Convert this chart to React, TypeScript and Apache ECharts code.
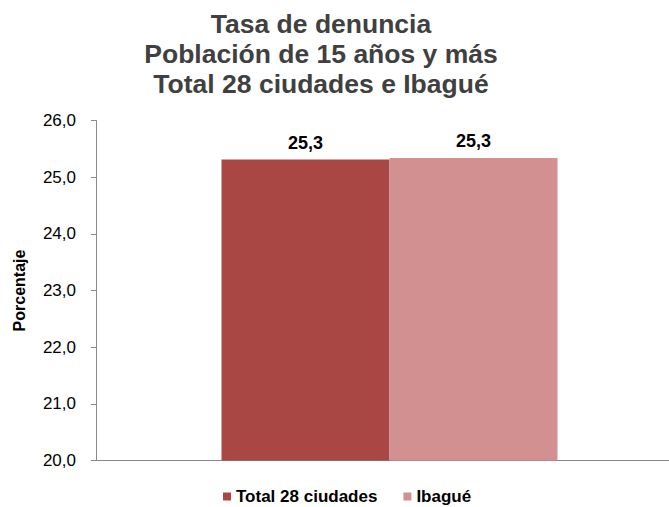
import React, { useEffect, useRef } from "react";
import * as echarts from "echarts";

const categories = [""];
const seriesNames = ["Total 28 ciudades", "Ibagué"];
const totalValues = [25.31];
const ibagueValues = [25.34];
const colors = ["#A94744", "#D39090"];
const titleLines = ["Tasa de denuncia", "Población de 15 años y más", "Total 28 ciudades e Ibagué"];

const fmt = (v: number) => v.toFixed(1).replace(".", ",");

export default function App() {
  const ref = useRef<HTMLDivElement>(null);
  useEffect(() => {
    if (!ref.current) return;
    const chart = echarts.init(ref.current, null, { renderer: "svg" });
    const font = "Liberation Sans, Arial, sans-serif";
    const labelStyle = {
      show: true,
      position: "top",
      distance: 8,
      formatter: (p: any) => fmt(p.value),
      fontSize: 18,
      fontWeight: "bold",
      color: "#000",
      fontFamily: font,
    };
    chart.setOption({
      animation: false,
      textStyle: { fontFamily: font },
      title: {
        text: titleLines.join("\n"),
        left: 316,
        textAlign: "center",
        top: 4,
        textStyle: { fontSize: 26.5, fontWeight: "bold", color: "#404040", lineHeight: 30, fontFamily: font },
      },
      legend: {
        data: seriesNames,
        top: 483,
        left: 218,
        itemWidth: 8,
        itemHeight: 8,
        itemGap: 26,
        icon: "rect",
        textStyle: { fontSize: 17, fontWeight: "bold", color: "#000", fontFamily: font },
      },
      grid: { left: 96, right: 0, top: 120.5, bottom: 46.5, containLabel: false },
      xAxis: {
        type: "category",
        data: categories,
        axisLine: { lineStyle: { color: "#898989" } },
        axisTick: { show: false },
        axisLabel: { show: false },
      },
      yAxis: {
        type: "value",
        min: 20,
        max: 26,
        interval: 1,
        name: "Porcentaje",
        nameLocation: "middle",
        nameGap: 69,
        nameRotate: 90,
        nameTextStyle: { fontSize: 16, fontWeight: "bold", color: "#000", fontFamily: font },
        axisLine: { show: true, lineStyle: { color: "#898989" } },
        axisTick: { show: true, inside: false, length: 5, lineStyle: { color: "#898989" } },
        splitLine: { show: false },
        axisLabel: { formatter: (v: number) => fmt(v), fontSize: 17, color: "#000", margin: 20, fontFamily: font },
      },
      series: [
        {
          name: "spacer",
          type: "bar",
          data: [null],
          barWidth: 14,
          barGap: "0%",
          silent: true,
          itemStyle: { color: "rgba(0,0,0,0)" },
          label: { show: false },
        },
        {
          name: seriesNames[0],
          type: "bar",
          data: totalValues,
          barWidth: 168,
          barGap: "0%",
          itemStyle: { color: colors[0] },
          label: labelStyle,
        },
        {
          name: seriesNames[1],
          type: "bar",
          data: ibagueValues,
          barWidth: 168,
          barGap: "0%",
          itemStyle: { color: colors[1] },
          label: labelStyle,
        },
      ],
    });
    return () => chart.dispose();
  }, []);
  return <div ref={ref} style={{ width: 669, height: 507, position: "absolute", left: 0, top: 0 }} />;
}
